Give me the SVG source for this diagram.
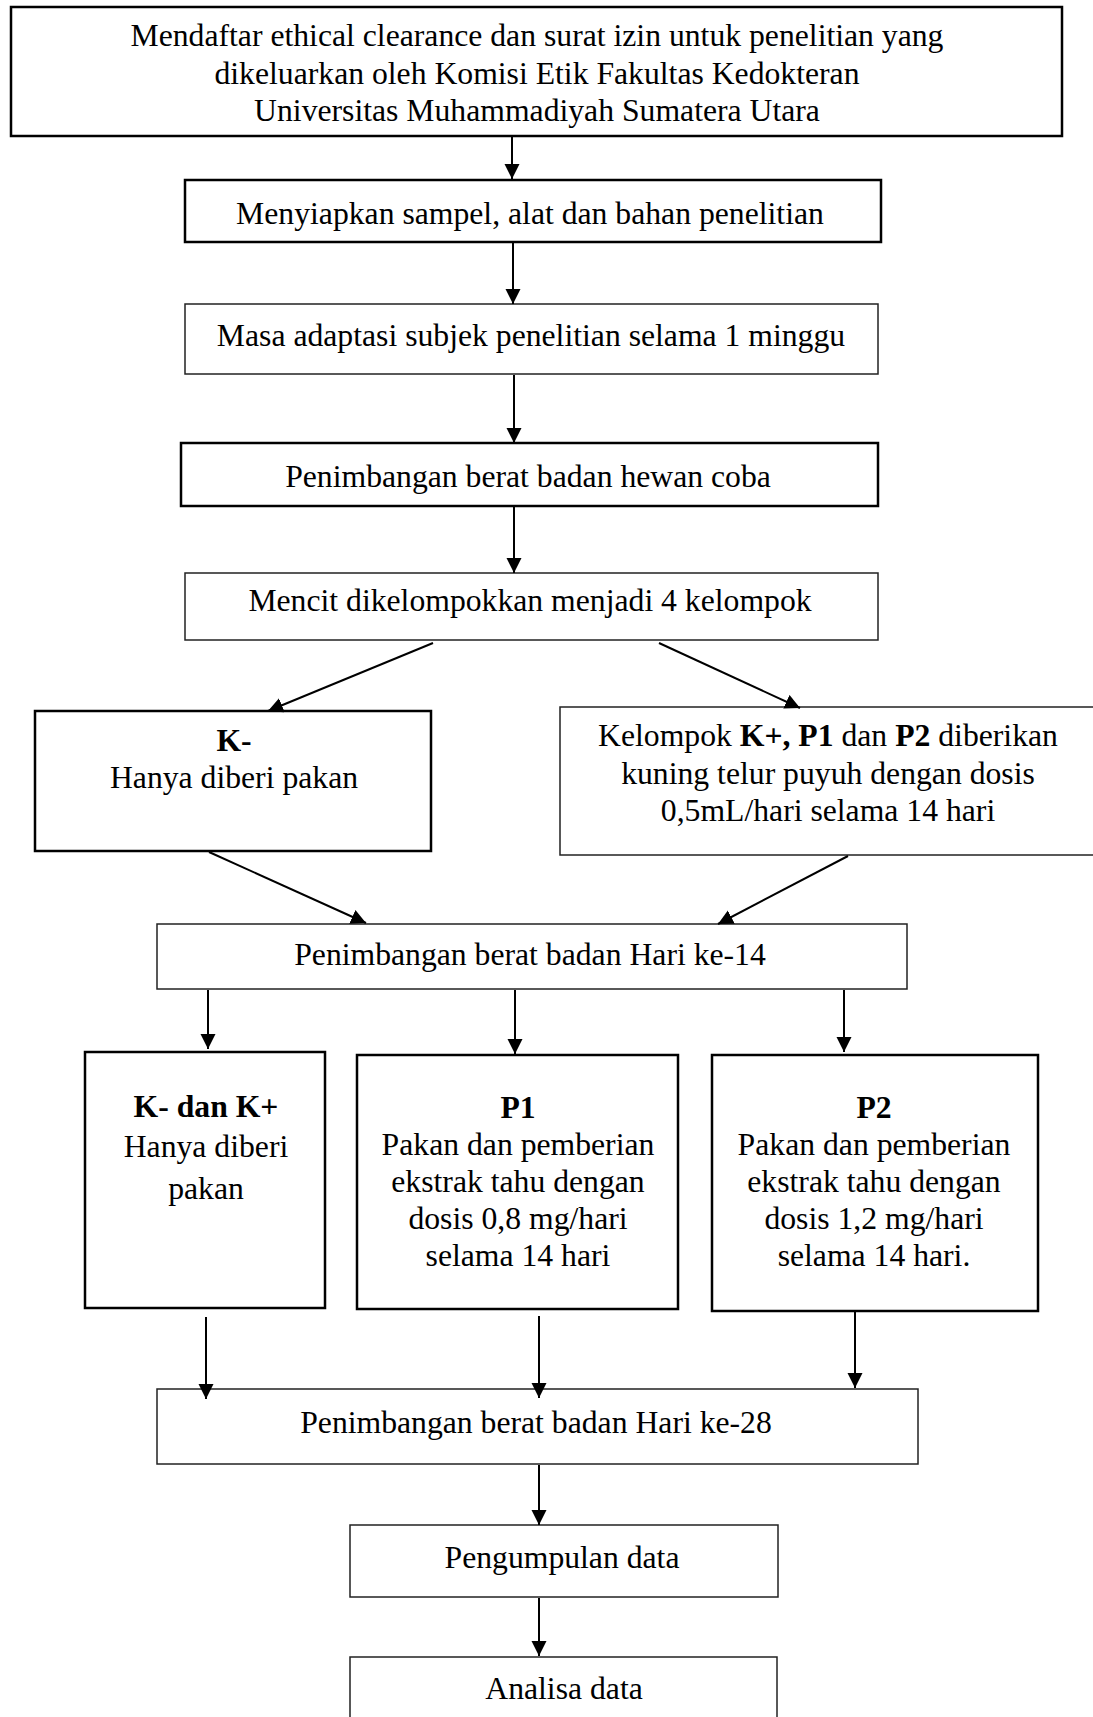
<svg xmlns="http://www.w3.org/2000/svg" width="1093" height="1717" viewBox="0 0 1093 1717">
<style>
.thick{fill:#fff;stroke:#000;stroke-width:2.5}
.thin{fill:#fff;stroke:#222;stroke-width:1.5}
text{font-family:"Liberation Serif","Times New Roman",serif;font-size:31.7px;fill:#000;text-anchor:middle}
.b{font-weight:bold}
.c line{stroke:#000;stroke-width:2;marker-end:url(#ah)}
</style>
<defs>
<marker id="ah" markerUnits="userSpaceOnUse" markerWidth="16" markerHeight="16" refX="15" refY="7.5" orient="auto" viewBox="0 0 16 16">
<path d="M0,0 L15,7.5 L0,15 z" fill="#000"/>
</marker>
</defs>
<rect width="1093" height="1717" fill="#fff"/>
<g id="n1">
<rect class="thick" x="11" y="7" width="1051" height="129"/>
<text x="537" y="46">Mendaftar ethical clearance dan surat izin untuk penelitian yang</text>
<text x="537" y="84">dikeluarkan oleh Komisi Etik Fakultas Kedokteran</text>
<text x="537" y="121">Universitas Muhammadiyah Sumatera Utara</text>
</g>
<g id="n2">
<rect class="thick" x="185" y="180" width="696" height="62"/>
<text x="530" y="224">Menyiapkan sampel, alat dan bahan penelitian</text>
</g>
<g id="n3">
<rect class="thin" x="185" y="304" width="693" height="70"/>
<text x="531" y="346">Masa adaptasi subjek penelitian selama 1 minggu</text>
</g>
<g id="n4">
<rect class="thick" x="181" y="443" width="697" height="63"/>
<text x="528" y="487">Penimbangan berat badan hewan coba</text>
</g>
<g id="n5">
<rect class="thin" x="185" y="573" width="693" height="67"/>
<text x="530" y="611">Mencit dikelompokkan menjadi 4 kelompok</text>
</g>
<g id="n6">
<rect class="thick" x="35" y="711" width="396" height="140"/>
<text x="234" y="751" class="b">K-</text>
<text x="234" y="788">Hanya diberi pakan</text>
</g>
<g id="n7">
<rect class="thin" x="560" y="707" width="545" height="148"/>
<text x="828" y="746">Kelompok <tspan class="b">K+, P1</tspan> dan <tspan class="b">P2</tspan> diberikan</text>
<text x="828" y="784">kuning telur puyuh dengan dosis</text>
<text x="828" y="821">0,5mL/hari selama 14 hari</text>
</g>
<g id="n8">
<rect class="thin" x="157" y="924" width="750" height="65"/>
<text x="530" y="965">Penimbangan berat badan Hari ke-14</text>
</g>
<g id="n9">
<rect class="thick" x="85" y="1052" width="240" height="256"/>
<text x="206" y="1117" class="b">K- dan K+</text>
<text x="206" y="1157">Hanya diberi</text>
<text x="206" y="1199">pakan</text>
</g>
<g id="n10">
<rect class="thick" x="357" y="1055" width="321" height="254"/>
<text x="518" y="1118" class="b">P1</text>
<text x="518" y="1155">Pakan dan pemberian</text>
<text x="518" y="1192">ekstrak tahu dengan</text>
<text x="518" y="1229">dosis 0,8 mg/hari</text>
<text x="518" y="1266">selama 14 hari</text>
</g>
<g id="n11">
<rect class="thick" x="712" y="1055" width="326" height="256"/>
<text x="874" y="1118" class="b">P2</text>
<text x="874" y="1155">Pakan dan pemberian</text>
<text x="874" y="1192">ekstrak tahu dengan</text>
<text x="874" y="1229">dosis 1,2 mg/hari</text>
<text x="874" y="1266">selama 14 hari.</text>
</g>
<g id="n12">
<rect class="thin" x="157" y="1389" width="761" height="75"/>
<text x="536" y="1433">Penimbangan berat badan Hari ke-28</text>
</g>
<g id="n13">
<rect class="thin" x="350" y="1525" width="428" height="72"/>
<text x="562" y="1568">Pengumpulan data</text>
</g>
<g id="n14">
<rect class="thin" x="350" y="1657" width="427" height="80"/>
<text x="564" y="1699">Analisa data</text>
</g>
<g class="c" id="connectors">
<line x1="512" y1="137" x2="512" y2="179"/>
<line x1="513" y1="243" x2="513" y2="304"/>
<line x1="514" y1="375" x2="514" y2="443"/>
<line x1="514" y1="507" x2="514" y2="573"/>
<line x1="433" y1="643" x2="268" y2="711"/>
<line x1="659" y1="643" x2="800" y2="708"/>
<line x1="209" y1="852" x2="366" y2="923"/>
<line x1="848" y1="856" x2="718" y2="924"/>
<line x1="208" y1="990" x2="208" y2="1049"/>
<line x1="515" y1="990" x2="515" y2="1054"/>
<line x1="844" y1="990" x2="844" y2="1052"/>
<line x1="206" y1="1317" x2="206" y2="1399"/>
<line x1="539" y1="1316" x2="539" y2="1398"/>
<line x1="855" y1="1310" x2="855" y2="1388"/>
<line x1="539" y1="1465" x2="539" y2="1525"/>
<line x1="539" y1="1598" x2="539" y2="1656"/>
</g>
</svg>
